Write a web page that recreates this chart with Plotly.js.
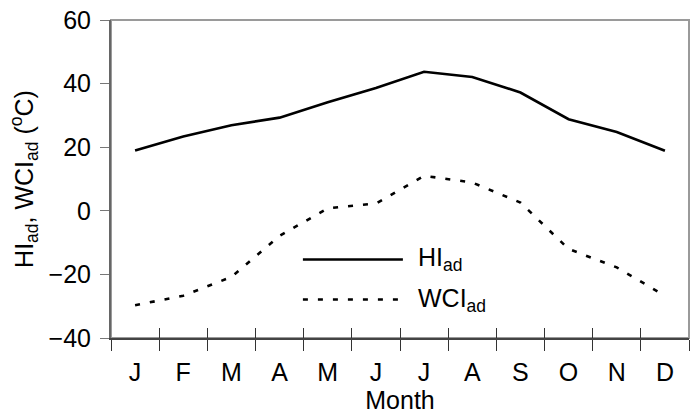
<!DOCTYPE html>
<html>
<head>
<meta charset="utf-8">
<script src="https://cdn.plot.ly/plotly-3.0.1.min.js"></script>
<style>html,body{margin:0;padding:0;background:#fff}#chart{width:693px;height:415px}</style>
</head>
<body>
<div id="chart"></div>
<script>
var months = ['J','F','M','A','M','J','J','A','S','O','N','D'];
var monthIndex = [1,2,3,4,5,6,7,8,9,10,11,12];
var hiAd = [19.0, 23.4, 26.9, 29.3, 34.1, 38.6, 43.7, 42.1, 37.2, 28.8, 24.8, 18.9];
var wciAd = [-29.7, -26.7, -20.8, -7.9, 0.8, 2.3, 11.0, 8.9, 2.6, -12.0, -17.8, -26.7];
var yTicks = [-40, -20, 0, 20, 40, 60];

var boundaries = monthIndex.map(function(m){return m - 0.5;}).concat([12.5]);
var FONT = 'Arial, "Liberation Sans", sans-serif';

var traces = [
  {x: monthIndex, y: hiAd, mode: 'lines', name: 'HI', line: {color: '#000', width: 2.6}, showlegend: false},
  {x: monthIndex, y: wciAd, mode: 'lines', name: 'WCI', line: {color: '#000', width: 2.6, dash: '5px,10px'}, showlegend: false},
  {x: [null], y: [null], xaxis: 'x2', yaxis: 'y', mode: 'lines', showlegend: false, hoverinfo: 'skip'}
];

var layout = {
  width: 693, height: 415,
  margin: {l: 111, r: 4, t: 20, b: 77},
  paper_bgcolor: '#fff', plot_bgcolor: '#fff',
  font: {family: FONT, size: 25, color: '#000'},
  showlegend: false,
  xaxis: {
    range: [0.5, 12.5], tickmode: 'array', tickvals: monthIndex, ticktext: months,
    ticks: 'outside', ticklen: 11, tickcolor: 'rgba(0,0,0,0)',
    minor: {tickmode: 'array', tickvals: boundaries, ticks: 'outside', ticklen: 11, tickcolor: '#333', tickwidth: 1, showgrid: false},
    showline: true, linecolor: '#444', linewidth: 2,
    showgrid: false, zeroline: false,
    tickfont: {family: FONT, size: 25},
    title: {text: 'Month', font: {family: FONT, size: 25}, standoff: 5}
  },
  xaxis2: {
    overlaying: 'x', anchor: 'y', side: 'bottom', matches: 'x',
    range: [0.5, 12.5], tickmode: 'array', tickvals: boundaries,
    ticks: 'inside', ticklen: 10, tickcolor: '#333', tickwidth: 1,
    showticklabels: false, showline: false, showgrid: false, zeroline: false
  },
  yaxis: {
    range: [-40, 60], tickmode: 'array', tickvals: yTicks,
    ticks: 'outside', ticklen: 9, tickcolor: '#777', tickwidth: 1,
    showline: true, linecolor: '#666', linewidth: 2,
    showgrid: false, zeroline: false,
    tickfont: {family: FONT, size: 25},
    ticklabelstandoff: 4,
    title: {text: 'HI<sub>ad</sub>, WCI<sub>ad</sub> (<sup>o</sup>C)', font: {family: FONT, size: 25}, standoff: 8}
  },
  shapes: [
    {type: 'rect', xref: 'paper', yref: 'paper', x0: 0, x1: 1, y0: 0, y1: 1, line: {color: '#9a9a9a', width: 2}, layer: 'below'},
    {type: 'line', xref: 'paper', yref: 'paper', x0: 0.332, x1: 0.505, y0: 0.247, y1: 0.247, line: {color: '#000', width: 2.6}},
    {type: 'line', xref: 'paper', yref: 'paper', x0: 0.332, x1: 0.505, y0: 0.121, y1: 0.121, line: {color: '#000', width: 2.6, dash: '5px,10px'}}
  ],
  annotations: [
    {xref: 'paper', yref: 'paper', x: 0.527, y: 0.247, xanchor: 'left', yanchor: 'middle', showarrow: false, text: 'HI<sub>ad</sub>', font: {family: FONT, size: 25}},
    {xref: 'paper', yref: 'paper', x: 0.527, y: 0.121, xanchor: 'left', yanchor: 'middle', showarrow: false, text: 'WCI<sub>ad</sub>', font: {family: FONT, size: 25}}
  ]
};

Plotly.newPlot('chart', traces, layout, {displayModeBar: false, staticPlot: true});
</script>
</body>
</html>
